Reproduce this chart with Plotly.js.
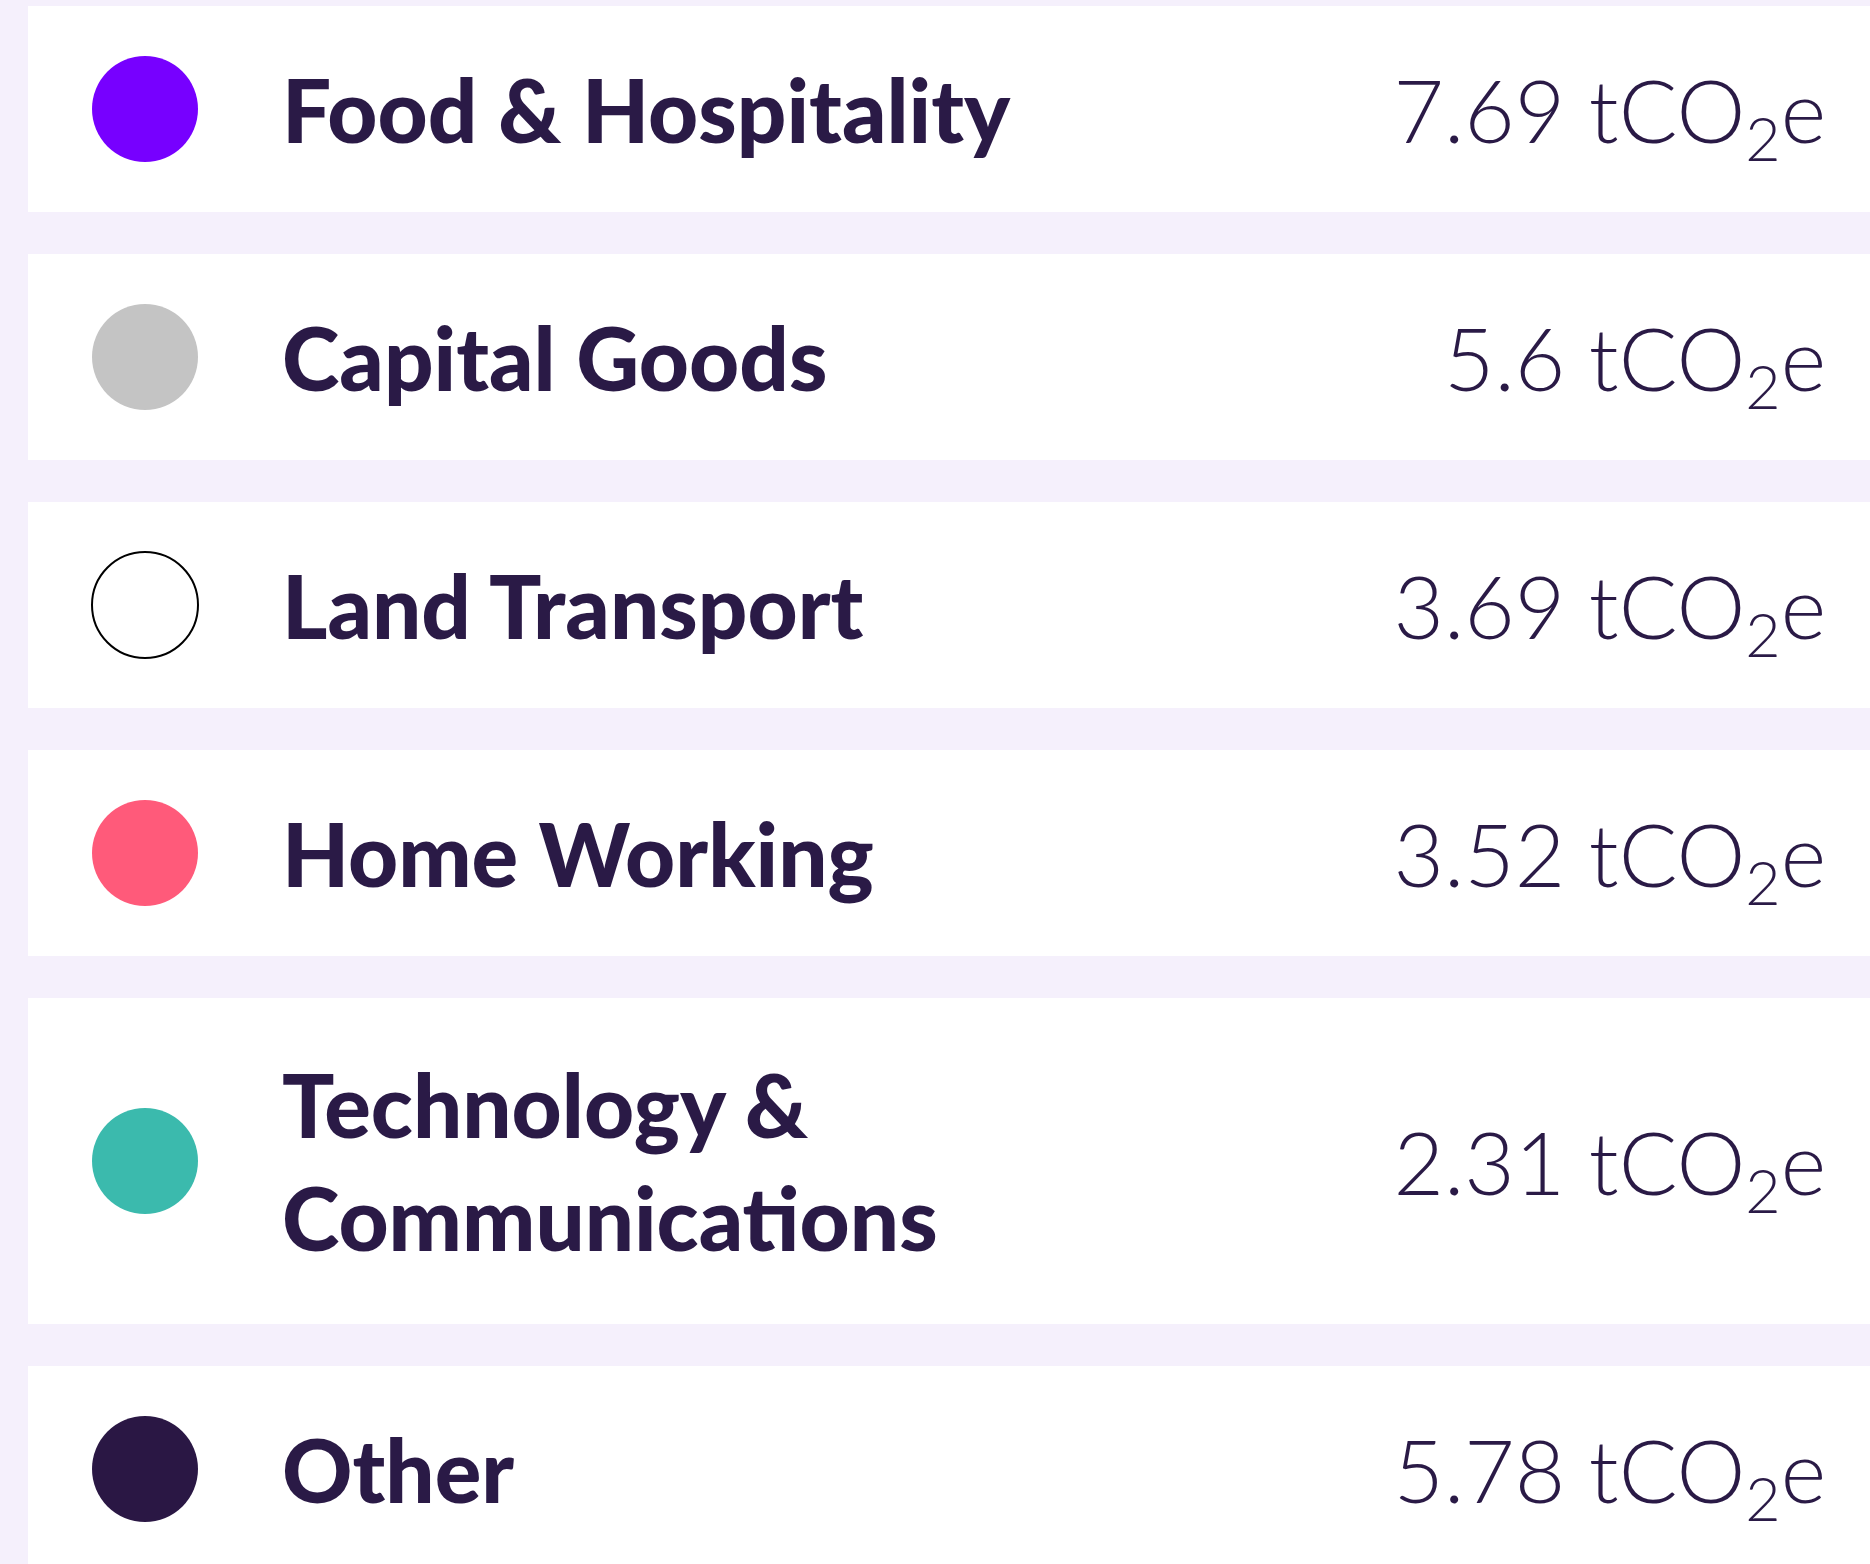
<!DOCTYPE html>
<html>
<head>
<meta charset="utf-8">
<script src="https://cdn.plot.ly/plotly-3.0.1.min.js"></script>
<style>html,body{margin:0;padding:0;background:#F5F0FC;}#chart{width:1870px;height:1564px;}</style>
</head>
<body>
<div id="chart"></div>
<script>
// Data
const categories = ["Food & Hospitality", "Capital Goods", "Land Transport", "Home Working", "Technology &<br>Communications", "Other"];
const values = [7.69, 5.6, 3.69, 3.52, 2.31, 5.78];
const unitLabel = " tCO<sub>2</sub>e";
const colors = ["#7700FF", "#C4C4C4", "#FFFFFF", "#FF5A7A", "#3BBAAD", "#2A1744"];

// Layout constants (pixels)
const W = 1870, H = 1564;
const top0 = 6, baseH = 206, lineH = 120, gap = 42;
const panelX0 = 28, panelX1 = W + 20;
const dotX = 145, labelX = 282, valueX = 1826;
const textShift = 12;
const textColor = "#2A1A46";

const centers = [], shapes = [];
let y = top0;
categories.forEach(function (c) {
  const lines = c.split("<br>").length;
  const h = baseH + (lines - 1) * lineH;
  shapes.push({type: "rect", xref: "x", yref: "y", x0: panelX0, x1: panelX1, y0: y, y1: y + h,
               fillcolor: "#FFFFFF", line: {width: 0}, layer: "below"});
  centers.push(y + h / 2);
  y += h + gap;
});
const textY = centers.map(function (c) { return c + textShift; });

const dots = {
  x: categories.map(function () { return dotX; }), y: centers, mode: "markers", type: "scatter",
  marker: {size: 106, color: colors,
           line: {width: colors.map(function (c) { return c === "#FFFFFF" ? 2 : 0; }), color: "#000000"}},
  hoverinfo: "skip", showlegend: false
};
const labels = {
  x: categories.map(function () { return labelX; }), y: textY, mode: "text", type: "scatter",
  text: categories, textposition: "middle right",
  textfont: {family: "Lato", size: 87, color: textColor, weight: 900},
  hoverinfo: "skip", showlegend: false
};
const vals = {
  x: categories.map(function () { return valueX; }), y: textY, mode: "text", type: "scatter",
  text: values.map(function (v) { return v + unitLabel; }), textposition: "middle left",
  textfont: {family: "Lato", size: 87, color: textColor, weight: 300},
  hoverinfo: "skip", showlegend: false
};

const layout = {
  width: W, height: H, margin: {l: 0, r: 0, t: 0, b: 0},
  paper_bgcolor: "#F5F0FC", plot_bgcolor: "#F5F0FC",
  xaxis: {range: [0, W], visible: false, fixedrange: true},
  yaxis: {range: [H, 0], visible: false, fixedrange: true},
  shapes: shapes, showlegend: false
};
Plotly.newPlot("chart", [dots, labels, vals], layout, {displayModeBar: false, staticPlot: true});
</script>
</body>
</html>
